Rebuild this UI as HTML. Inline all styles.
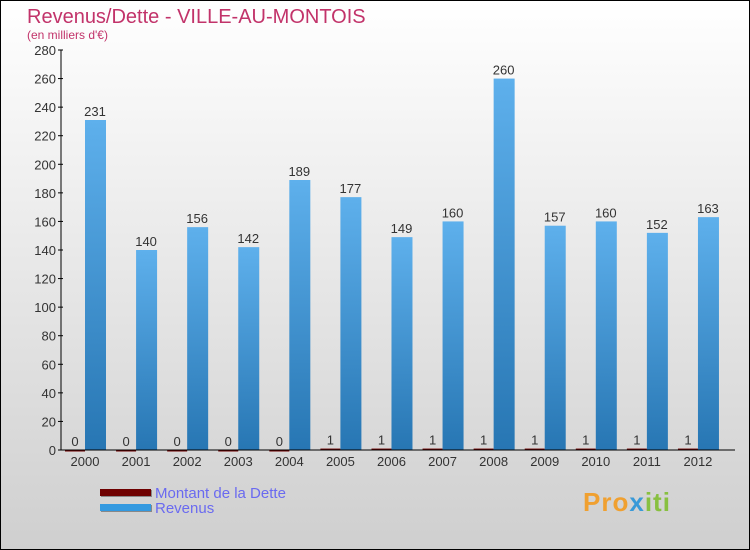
<!DOCTYPE html>
<html><head><meta charset="utf-8"><style>
html,body{margin:0;padding:0}
body{width:750px;height:550px;overflow:hidden;font-family:"Liberation Sans",sans-serif}
#wrap{position:relative;width:748px;height:548px;border:1px solid #000;background:linear-gradient(#ffffff,#cfcfcf)}
.t{position:absolute;white-space:nowrap}
</style></head><body>
<div id="wrap">
<div class="t" style="left:26px;top:5px;font-size:20px;color:#c2336a">Revenus/Dette - VILLE-AU-MONTOIS</div>
<div class="t" style="left:26px;top:27px;font-size:12px;color:#c2336a">(en milliers d'€)</div>
<svg id="chart" width="750" height="550" style="position:absolute;left:-1px;top:-1px">
<defs>
<linearGradient id="gb" x1="0" y1="0" x2="0" y2="1"><stop offset="0" stop-color="#5eb0ec"/><stop offset="1" stop-color="#2776b3"/></linearGradient>
</defs>
<g id="g"></g>
</svg>
<div style="position:absolute;left:99px;top:488px;width:51px;height:7px;background:#6e0000;box-shadow:1px 1px 0 #888"></div>
<div class="t" style="left:154px;top:484px;font-size:15px;color:#6a6af0">Montant de la Dette</div>
<div style="position:absolute;left:99px;top:503px;width:51px;height:7px;background:#3399e0;box-shadow:1px 1px 0 #888"></div>
<div class="t" style="left:154px;top:499px;font-size:15px;color:#6a6af0">Revenus</div>
<div class="t" style="left:582px;top:486px;font-size:26px;font-weight:bold;letter-spacing:1px"><span style="color:#f0a030">Pro</span><span style="color:#3a9ad8">x</span><span style="color:#88c040">iti</span></div>
</div>
<script>
const years=["2000","2001","2002","2003","2004","2005","2006","2007","2008","2009","2010","2011","2012"];
const dette=[0,0,0,0,0,1,1,1,1,1,1,1,1];
const revenus=[231,140,156,142,189,177,149,160,260,157,160,152,163];
const ticks=[0,20,40,60,80,100,120,140,160,180,200,220,240,260,280];
const NS="http://www.w3.org/2000/svg";
const g=document.getElementById('g');
const y=v=>450-v*400/280;
const xc=i=>85+i*51.08;
function mk(t,a){const e=document.createElementNS(NS,t);for(const k in a)e.setAttribute(k,a[k]);g.appendChild(e);return e;}
ticks.forEach(t=>{
 const l=mk('line',{x1:58,x2:63,y1:y(t),y2:y(t),stroke:'#000'});
 
 
 const tx=mk('text',{x:56,y:y(t)+5,'text-anchor':'end','font-size':13,fill:'#333','font-family':'Liberation Sans'});
 tx.textContent=t;
 
 
});
years.forEach((yr,i)=>{
 const c=xc(i);
 const rd=mk('rect',{x:c-20,y:y(dette[i]),width:20,height:Math.max(450-y(dette[i]),1.5),fill:'#6e0000'});
 
 
 const rb=mk('rect',{x:c,y:y(revenus[i]),width:21,height:450-y(revenus[i]),fill:'url(#gb)'});
 
 
 const t1=mk('text',{x:c-10,y:y(dette[i])-4,'text-anchor':'middle','font-size':13,fill:'#333','font-family':'Liberation Sans'});
 t1.textContent=dette[i];
 
 
 const t2=mk('text',{x:c+10,y:y(revenus[i])-4,'text-anchor':'middle','font-size':13,fill:'#333','font-family':'Liberation Sans'});
 t2.textContent=revenus[i];
 
 
 const xl=mk('text',{x:c,y:466,'text-anchor':'middle','font-size':13,fill:'#333','font-family':'Liberation Sans'});
 xl.textContent=yr;
 
 
});
const ya=mk('line',{x1:61,x2:61,y1:50,y2:450,stroke:'#000'});


const xa=mk('line',{x1:61,x2:735,y1:450,y2:450,stroke:'#000'});


</script>
</body></html>
